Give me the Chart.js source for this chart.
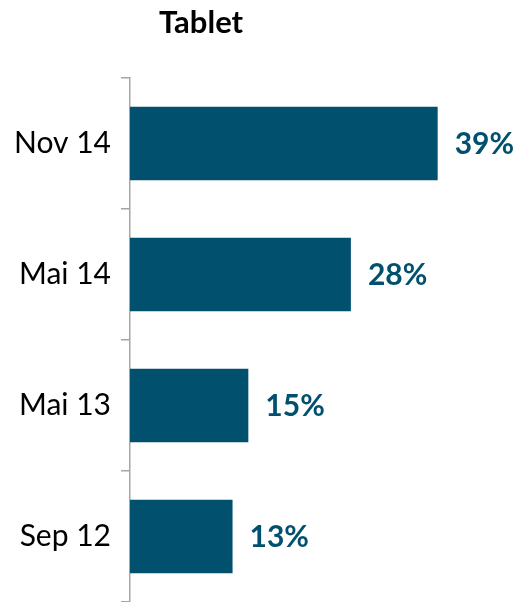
<!DOCTYPE html>
<html>
<head>
<meta charset="utf-8">
<script src="https://cdn.jsdelivr.net/npm/chart.js@4.4.1/dist/chart.umd.min.js"></script>
<style>
  html, body { margin: 0; padding: 0; background: #fff; }
  #wrap { width: 518px; height: 602px; }
</style>
</head>
<body>
<div id="wrap"><canvas id="chart_tablet" width="518" height="602"></canvas></div>
<script>
'use strict';

var categories = ["Nov 14", "Mai 14", "Mai 13", "Sep 12"];
var values = [39, 28, 15, 13];
var chartTitle = "Tablet";

var barColor = '#00506E';
var axisColor = '#A6A6A6';

// title sits over the label column, like the original
var titlePlugin = {
    id: 'leftTitle',
    afterDraw: function (chart) {
        var ctx = chart.ctx;
        ctx.save();
        ctx.font = 'bold 31px Lato';
        ctx.fillStyle = '#000';
        ctx.textAlign = 'center';
        ctx.textBaseline = 'alphabetic';
        ctx.fillText(chartTitle, 201, 33);
        ctx.restore();
    }
};

// percentage labels at the end of each bar
var valueLabels = {
    id: 'valueLabels',
    afterDatasetsDraw: function (chart) {
        var ctx = chart.ctx;
        var meta = chart.getDatasetMeta(0);
        ctx.save();
        ctx.font = 'bold 30px Lato';
        ctx.fillStyle = barColor;
        ctx.textAlign = 'left';
        ctx.textBaseline = 'middle';
        meta.data.forEach(function (bar, i) {
            ctx.fillText(values[i] + '%', bar.x + 17, bar.y + 1);
        });
        ctx.restore();
    }
};

var ctx = document.getElementById('chart_tablet').getContext('2d');
var myBar = new Chart(ctx, {
    type: 'bar',
    data: {
        labels: categories,
        datasets: [{
            label: chartTitle,
            data: values,
            backgroundColor: barColor,
            borderWidth: 0,
            categoryPercentage: 1.0,
            barPercentage: 0.56
        }]
    },
    options: {
        indexAxis: 'y',
        responsive: false,
        animation: false,
        layout: {
            padding: { top: 78, right: 33, bottom: 0, left: 0 }
        },
        plugins: {
            legend: { display: false },
            title: { display: false },
            tooltip: { enabled: false }
        },
        scales: {
            x: {
                display: false,
                min: 0,
                max: 45
            },
            y: {
                afterFit: function (scale) {
                    scale.width = 130;
                    scale.paddingTop = 0;
                    scale.paddingBottom = 0;
                },
                grid: {
                    offset: true,
                    drawOnChartArea: false,
                    drawTicks: true,
                    tickLength: 9,
                    color: axisColor,
                    lineWidth: 1.5
                },
                border: {
                    display: true,
                    color: axisColor,
                    width: 1.5
                },
                ticks: {
                    color: '#000',
                    padding: 10,
                    font: { family: 'Lato', size: 30 }
                }
            }
        }
    },
    plugins: [titlePlugin, valueLabels]
});
</script>
</body>
</html>
